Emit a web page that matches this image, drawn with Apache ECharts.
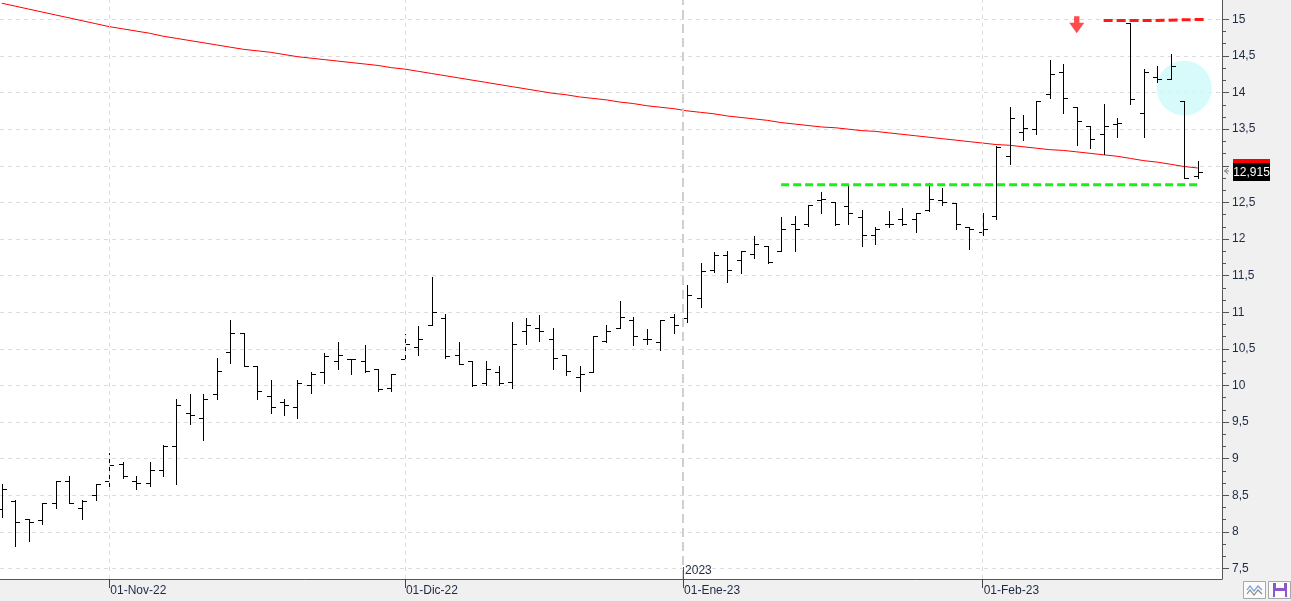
<!DOCTYPE html>
<html>
<head>
<meta charset="utf-8">
<script src="https://cdn.jsdelivr.net/npm/echarts@6/dist/echarts.min.js"></script>
<style>
html,body{margin:0;padding:0;background:#f0f0f0;}
#c{width:1291px;height:601px;}
</style>
</head>
<body>
<div id="c"></div>
<script>
// ---- data ----
const dates = [
 '2022-10-20','2022-10-21','2022-10-24','2022-10-25','2022-10-26','2022-10-27','2022-10-28','2022-10-31',
 '2022-11-01','2022-11-02','2022-11-03','2022-11-04','2022-11-07','2022-11-08','2022-11-09','2022-11-10','2022-11-11',
 '2022-11-14','2022-11-15','2022-11-16','2022-11-17','2022-11-18','2022-11-21','2022-11-22','2022-11-23','2022-11-24','2022-11-25',
 '2022-11-28','2022-11-29','2022-11-30',
 '2022-12-01','2022-12-02','2022-12-05','2022-12-06','2022-12-07','2022-12-08','2022-12-09','2022-12-12','2022-12-13','2022-12-14',
 '2022-12-15','2022-12-16','2022-12-19','2022-12-20','2022-12-21','2022-12-22','2022-12-23','2022-12-27','2022-12-28','2022-12-29','2022-12-30',
 '2023-01-02','2023-01-03','2023-01-04','2023-01-05','2023-01-06','2023-01-09','2023-01-10','2023-01-11','2023-01-12','2023-01-13',
 '2023-01-16','2023-01-17','2023-01-18','2023-01-19','2023-01-20','2023-01-23','2023-01-24','2023-01-25','2023-01-26','2023-01-27',
 '2023-01-30','2023-01-31',
 '2023-02-01','2023-02-02','2023-02-03','2023-02-06','2023-02-07','2023-02-08','2023-02-09','2023-02-10','2023-02-13','2023-02-14',
 '2023-02-15','2023-02-16','2023-02-17','2023-02-20','2023-02-21','2023-02-22','2023-02-23'
];
const open = [8.31,8.42,8.17,8.16,8.40,8.70,8.32,8.51,8.70,8.93,8.70,8.67,8.85,9.17,9.63,9.56,9.88,10.46,10.72,10.26,
 9.86,9.77,9.71,10.01,10.19,10.33,10.36,10.33,10.23,9.97,10.36,10.53,10.83,10.92,10.42,10.33,10.03,10.19,10.05,10.74,
 10.79,10.63,10.42,10.11,10.19,10.61,10.78,10.90,10.64,10.60,10.93,10.92,11.20,11.57,11.78,11.71,11.80,11.91,11.84,12.21,
 12.20,12.53,12.50,12.45,12.30,12.06,12.20,12.27,12.28,12.39,12.53,12.49,12.16,12.09,12.31,13.13,13.46,13.50,13.98,14.28,
 13.80,13.54,13.44,13.57,14.95,13.72,14.21,14.18,13.89,12.86];
const high = [8.66,8.44,8.17,8.40,8.70,8.77,8.43,8.66,9.08,8.95,8.77,8.96,9.19,9.81,9.89,9.89,10.37,10.90,10.72,10.26,
 10.08,9.82,10.08,10.18,10.45,10.60,10.36,10.55,10.23,10.16,10.70,10.81,11.48,10.98,10.60,10.33,10.34,10.27,10.86,10.92,
 10.96,10.78,10.42,10.26,10.67,10.82,11.16,10.94,10.77,10.90,10.98,11.37,11.67,11.82,11.83,11.84,12.04,11.91,12.30,12.32,
 12.47,12.64,12.50,12.72,12.40,12.16,12.38,12.42,12.36,12.76,12.70,12.49,12.16,12.36,13.27,13.80,13.70,13.88,14.44,14.39,
 13.80,13.54,13.84,13.65,14.95,14.32,14.36,14.52,13.89,13.06];
const low = [8.20,7.81,7.87,8.11,8.33,8.39,8.17,8.44,8.61,8.74,8.59,8.63,8.76,8.66,9.48,9.25,9.81,10.31,10.26,9.82,
 9.63,9.59,9.56,9.90,10.03,10.22,10.16,10.19,9.92,9.92,10.36,10.42,10.83,10.38,10.29,9.99,10.00,10.00,9.96,10.57,
 10.61,10.22,10.14,9.93,10.19,10.60,10.78,10.55,10.57,10.48,10.72,10.86,11.07,11.55,11.41,11.53,11.74,11.67,11.83,11.84,
 12.18,12.36,12.19,12.21,11.90,11.93,12.16,12.19,12.10,12.38,12.47,12.13,11.86,12.06,12.28,13.03,13.35,13.43,13.92,13.72,
 13.29,13.24,13.16,13.39,13.85,13.39,14.14,14.18,12.84,12.84];
const close = [8.58,8.14,8.13,8.39,8.70,8.39,8.42,8.66,8.92,8.77,8.67,8.85,9.18,9.74,9.59,9.81,10.20,10.71,10.26,9.93,
 9.70,9.74,10.03,10.16,10.40,10.41,10.36,10.20,9.95,10.15,10.56,10.63,11.00,10.40,10.29,10.01,10.22,10.04,10.57,10.82,
 10.75,10.38,10.20,10.15,10.67,10.74,10.94,10.67,10.64,10.89,10.83,11.23,11.56,11.78,11.57,11.83,11.93,11.68,12.14,12.14,
 12.47,12.54,12.21,12.36,12.06,12.14,12.21,12.21,12.36,12.55,12.51,12.20,12.13,12.14,13.25,13.65,13.51,13.88,14.26,13.92,
 13.61,13.36,13.55,13.58,13.91,14.28,14.18,14.36,12.84,12.915];
const movingAvg = [15.22,15.18,15.14,15.10,15.06,15.02,14.98,14.94,14.90,14.87,14.84,14.81,14.77,14.74,14.71,14.68,14.65,14.62,14.59,14.57,
 14.55,14.52,14.49,14.47,14.45,14.43,14.41,14.39,14.37,14.34,14.32,14.29,14.26,14.23,14.20,14.17,14.14,14.11,14.08,14.05,
 14.02,13.99,13.97,13.94,13.92,13.90,13.87,13.85,13.82,13.80,13.78,13.75,13.73,13.71,13.68,13.66,13.64,13.62,13.59,13.57,
 13.55,13.53,13.52,13.50,13.48,13.47,13.45,13.43,13.41,13.39,13.37,13.35,13.33,13.31,13.29,13.28,13.26,13.24,13.22,13.21,
 13.19,13.17,13.15,13.13,13.10,13.07,13.05,13.02,12.99,12.97];
const yTickValues = [7.5,8,8.5,9,9.5,10,10.5,11,11.5,12,12.5,13,13.5,14,14.5,15];
const monthNames = ['Ene','Feb','Mar','Abr','May','Jun','Jul','Ago','Sep','Oct','Nov','Dic'];
// annotations
const supportLevel = 12.74, supportStart = 58;
const resistanceA = 14.985, resistanceB = 15.0, resistanceStart = 82, resistanceMid = 85.8, resistanceEnd = 89.7;
const arrowIndex = 80, arrowValue = 14.925;
const circleIndex = 88, circleValue = 14.06;

// ---- derived ticks ----
const monthTicks = [];
for (let i = 1; i < dates.length; i++) {
  const [y, m] = dates[i].split('-');
  const [py, pm] = dates[i - 1].split('-');
  if (m !== pm) {
    monthTicks.push({
      pos: y !== py ? i - 0.3 : i,
      label: '01-' + monthNames[+m - 1] + '-' + y.slice(2),
      newYear: y !== py ? y : null
    });
  }
}
const minorTicks = [];
for (let k = 0; k < yTickValues.length - 1; k++) {
  const a = yTickValues[k], b = yTickValues[k + 1];
  minorTicks.push(a + (b - a) / 3, a + 2 * (b - a) / 3);
}
const fmt = v => String(v).replace('.', ',');
const FONT = 'Liberation Sans';
const TXT = '#1e2a44';
const X_MIN = -0.134, X_MAX = dates.length + 0.81, Y_MIN = 7.357, Y_MAX = 15.264;
const GRID = {left: 0, right: 69, top: 0, bottom: 22};

const chart = echarts.init(document.getElementById('c'), null, {renderer: 'canvas'});
const option = {
  animation: false,
  backgroundColor: '#f0f0f0',
  grid: [
    Object.assign({show: true, backgroundColor: '#ffffff', borderWidth: 0}, GRID),
    Object.assign({show: false}, GRID)
  ],
  xAxis: [{
    type: 'value', min: X_MIN, max: X_MAX, gridIndex: 0,
    axisLine: {show: true, onZero: false, lineStyle: {color: '#555', width: 1}},
    axisTick: {show: true, customValues: monthTicks.map(t => t.pos), length: 9, lineStyle: {color: '#444'}},
    axisLabel: {
      customValues: monthTicks.map(t => t.pos),
      formatter: v => { const t = monthTicks.find(m => Math.abs(m.pos - v) < 0.01); return t ? t.label : ''; },
      align: 'left', padding: [0, 0, 0, 1], margin: 6, color: TXT, fontFamily: FONT, fontSize: 12
    },
    splitLine: {show: false}
  }, {
    type: 'value', min: X_MIN, max: X_MAX, gridIndex: 1, show: false
  }],
  yAxis: [{
    type: 'value', position: 'right', min: Y_MIN, max: Y_MAX, gridIndex: 0,
    axisLine: {show: true, onZero: false, lineStyle: {color: '#555', width: 1}},
    axisTick: {show: true, customValues: yTickValues, length: 7, lineStyle: {color: '#555'}},
    axisLabel: {customValues: yTickValues, formatter: fmt, margin: 10, color: TXT, fontFamily: FONT, fontSize: 12},
    splitLine: {show: true, lineStyle: {color: '#dcdcdc', type: [4, 4], width: 1}}
  }, {
    type: 'value', position: 'right', min: Y_MIN, max: Y_MAX, gridIndex: 1,
    axisLine: {show: false, onZero: false},
    axisTick: {show: true, customValues: minorTicks, length: 4, lineStyle: {color: '#555'}},
    axisLabel: {show: false},
    splitLine: {show: false}
  }],
  series: [
    { // vertical grid lines
      type: 'line', data: [], z: 0, silent: true,
      markLine: {
        silent: true, symbol: ['none', 'none'], label: {show: false},
        lineStyle: {color: '#dcdcdc', type: [4, 4], width: 1},
        data: monthTicks.map(t => t.newYear
          ? {xAxis: t.pos, lineStyle: {color: '#cfcfcf', type: [9, 5], width: 2}}
          : {xAxis: t.pos})
      }
    },
    {
      type: 'scatter', data: [[circleIndex, circleValue]], symbolSize: 55, z: 1, silent: true,
      itemStyle: {color: '#cdfafa'}
    },
    {
      type: 'line', data: movingAvg.map((v, i) => [i, v]), showSymbol: false, z: 2, silent: true,
      lineStyle: {color: '#ff0000', width: 1}
    },
    {
      type: 'custom', z: 3, clip: true, silent: true,
      data: dates.map((d, i) => [i, open[i], high[i], low[i], close[i]]),
      encode: {x: 0, y: [1, 2, 3, 4]},
      renderItem: function (params, api) {
        const i = api.value(0);
        const pO = api.coord([i, api.value(1)]);
        const pH = api.coord([i, api.value(2)]);
        const pL = api.coord([i, api.value(3)]);
        const pC = api.coord([i, api.value(4)]);
        const x = Math.round(pO[0]) + 0.5;
        const sn = y => Math.round(y) + 0.5;
        const st = {stroke: '#000', lineWidth: 1};
        return {type: 'group', children: [
          {type: 'line', shape: {x1: x, y1: Math.round(pH[1]), x2: x, y2: Math.round(pL[1]) + 1}, style: st},
          {type: 'line', shape: {x1: x - 4.5, y1: sn(pO[1]), x2: x, y2: sn(pO[1])}, style: st},
          {type: 'line', shape: {x1: x, y1: sn(pC[1]), x2: x + 4.5, y2: sn(pC[1])}, style: st}
        ]};
      }
    },
    {
      type: 'line', data: [[supportStart, supportLevel], [dates.length - 1, supportLevel]], z: 4, silent: true,
      showSymbol: false, lineStyle: {color: '#19ee19', width: 3, type: [8, 4]}
    },
    {
      type: 'line', z: 4, silent: true, showSymbol: false,
      data: [[resistanceStart, resistanceA], [resistanceMid, resistanceA], [resistanceMid, resistanceB], [resistanceEnd, resistanceB]],
      lineStyle: {color: '#ff1a1a', width: 3, type: [9, 4]}
    },
    {
      type: 'scatter', z: 5, silent: true, data: [[arrowIndex, arrowValue]],
      symbol: 'path://M4.5,0 L9.5,0 L9.5,6 L14,6 L7,16 L0,6 L4.5,6 Z', symbolSize: [15, 17],
      itemStyle: {color: '#ff1f1f'}
    }
  ]
};
chart.setOption(option);

// overlays computed through the chart's own scales
const last = dates.length - 1;
const yMa = chart.convertToPixel({yAxisIndex: 0}, movingAvg[last]);
const yC = chart.convertToPixel({yAxisIndex: 0}, close[last]);
const yearTick = monthTicks.find(t => t.newYear);
const xYear = chart.convertToPixel({xAxisIndex: 0}, yearTick.pos);
const gridBottom = 601 - GRID.bottom;
chart.setOption({
  graphic: [
    {type: 'rect', shape: {x: 1233, y: yMa - 9, width: 37, height: 18}, style: {fill: '#ff0000'}, z: 100},
    {type: 'rect', shape: {x: 1233, y: yC - 9, width: 37, height: 18}, style: {fill: '#000000'}, z: 101},
    {type: 'text', x: 1251.5, y: yC + 0.5, z: 102,
      style: {text: fmt(close[last]), fill: '#ffffff', font: '12px "Liberation Sans"', align: 'center', verticalAlign: 'middle'}},
    {type: 'polyline', shape: {points: [[1228, 168], [1224.5, 171], [1228, 174]]}, style: {stroke: '#777', lineWidth: 1, fill: null}, z: 100},
    {type: 'line', shape: {x1: 1224.5, y1: 171, x2: 1229, y2: 171}, style: {stroke: '#777', lineWidth: 1}, z: 100},
    {type: 'line', shape: {x1: Math.round(xYear) + 0.5, y1: gridBottom - 12, x2: Math.round(xYear) + 0.5, y2: gridBottom}, style: {stroke: '#555', lineWidth: 1}, z: 100},
    {type: 'text', x: xYear + 2, y: gridBottom - 8, z: 100,
      style: {text: yearTick.newYear, fill: TXT, font: '12px "Liberation Sans"', verticalAlign: 'middle'}},
    // toolbar buttons
    {type: 'rect', shape: {x: 1243.5, y: 581.5, width: 22, height: 17}, style: {fill: '#fbfbfb', stroke: '#a8a8a8', lineWidth: 1}, z: 100},
    {type: 'polyline', shape: {points: [[1247, 590], [1250, 586], [1254, 591], [1258, 586], [1262, 590]]}, style: {stroke: '#6f9bd8', lineWidth: 1.2, fill: null}, z: 101},
    {type: 'polyline', shape: {points: [[1247, 594], [1250, 590], [1254, 595], [1258, 590], [1262, 594]]}, style: {stroke: '#8a8a8a', lineWidth: 1.2, fill: null}, z: 101},
    {type: 'rect', shape: {x: 1268.5, y: 581.5, width: 22, height: 17}, style: {fill: '#fbfbfb', stroke: '#a8a8a8', lineWidth: 1}, z: 100},
    {type: 'rect', shape: {x: 1273, y: 583, width: 14, height: 14}, style: {fill: '#8b57c9'}, z: 101},
    {type: 'rect', shape: {x: 1276, y: 583, width: 8, height: 5}, style: {fill: '#ffffff'}, z: 102},
    {type: 'rect', shape: {x: 1275, y: 591, width: 10, height: 6}, style: {fill: '#ffffff'}, z: 102}
  ]
});
</script>
</body>
</html>
